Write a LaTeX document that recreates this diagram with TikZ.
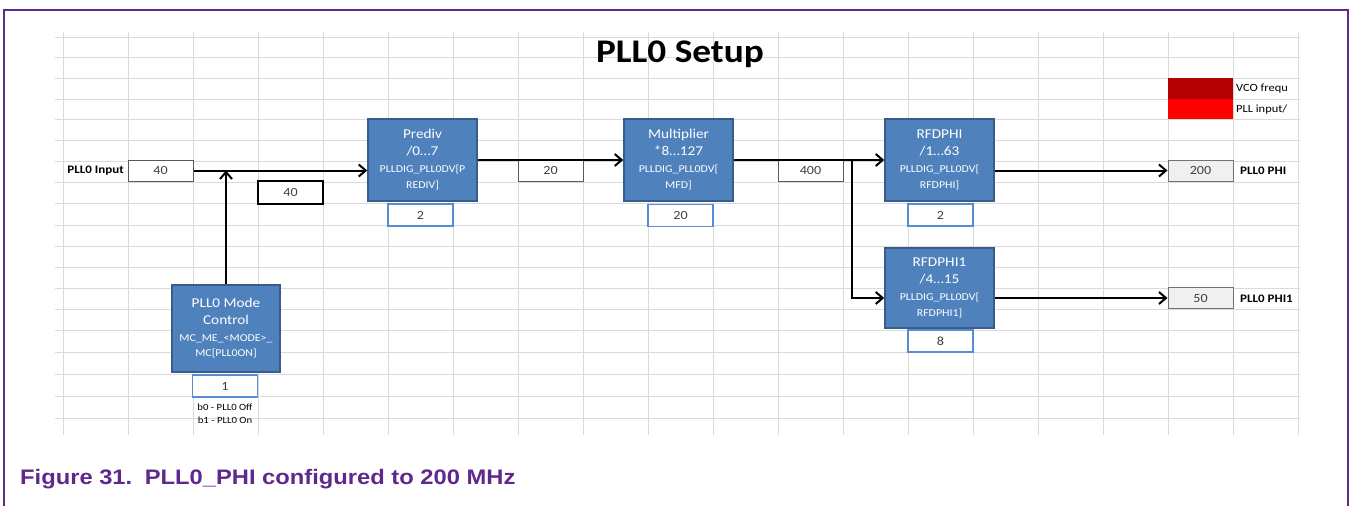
\documentclass[tikz,border=0pt]{standalone}
\usepackage{fontspec}
\setmainfont{Carlito}[FakeStretch=1.13]
\newfontfamily\capf{Liberation Sans}[FakeStretch=1.13]
\usetikzlibrary{arrows.meta}
\definecolor{nxp}{RGB}{94,40,140}
\definecolor{blkfill}{RGB}{79,129,189}
\definecolor{blkdraw}{RGB}{56,93,138}
\definecolor{valdraw}{RGB}{85,142,213}
\definecolor{gridc}{RGB}{218,218,218}
\definecolor{darkred}{RGB}{180,0,0}
\definecolor{numc}{RGB}{64,64,64}
\tikzset{
  gridl/.style={draw=gridc, line width=1pt},
  blk/.style={draw=blkdraw, fill=blkfill, line width=1.5pt, text=white, align=center,
    minimum width=109pt, minimum height=82pt, inner sep=0pt, font=\fontsize{13.5}{17}\selectfont},
  bval/.style={draw=valdraw, fill=white, line width=1.5pt, text=numc,
    minimum width=65pt, minimum height=22pt, inner sep=0pt, font=\fontsize{12.5}{14}\selectfont},
  ival/.style={draw=black!65, fill=white, line width=1pt, text=numc,
    minimum width=65pt, minimum height=21pt, inner sep=0pt, font=\fontsize{12.5}{14}\selectfont},
  oval/.style={draw=black!55, fill=black!6, line width=1pt, text=numc,
    minimum width=65pt, minimum height=21pt, inner sep=0pt, font=\fontsize{12.5}{14}\selectfont},
  lbl/.style={font=\bfseries\fontsize{11.5}{13}\selectfont, inner sep=0pt},
  leg/.style={anchor=west, font=\fontsize{11}{12}\selectfont, inner sep=0pt},
  arr/.style={draw=black, line width=2pt, -{Straight Barb[length=7pt,width=12pt,line width=2pt]}},
}
\newcommand{\smt}{\fontsize{10.5}{17}\selectfont}
\begin{document}
\begin{tikzpicture}[x=1pt,y=-1pt]
\useasboundingbox (0,0) rectangle (1352,506);
% grid
\foreach \yy in {37,57,78,99,119,140,161,182,203,225,246,267,288,309,330,352,374,396,418}
  \draw[gridl] (55,\yy) -- (1300,\yy);
\foreach \k in {0,...,19}
  \draw[gridl] ({63+65*\k},32) -- ({63+65*\k},435);
% frame
\draw[nxp, line width=2.5pt] (4,506) -- (4,10) -- (1348,10) -- (1348,506);
% title
\node[font=\bfseries\fontsize{33}{36}\selectfont, inner sep=0pt] (title) at (680,54) {PLL0 Setup};
% legend
\node[fill=darkred, minimum width=65pt, minimum height=21pt, inner sep=0pt] (leg1) at (1200.5,88.5) {};
\node[fill=red, minimum width=65pt, minimum height=20pt, inner sep=0pt] (leg2) at (1200.5,109) {};
\node[leg] (leg1t) at (1236,89) {VCO frequ};
\node[leg] (leg2t) at (1236,110) {PLL input/};
% input
\node[lbl, anchor=east] (inlbl) at (124,171) {PLL0 Input};
\node[ival] (in40) at (160.5,170.5) {40};
\node[draw=black, line width=2.5pt, fill=white, minimum width=65pt, minimum height=23pt, inner sep=0pt,
  text=numc, font=\fontsize{12.5}{14}\selectfont] (b40) at (290.5,192.5) {40};
% blocks
\node[blk] (prediv) at (422.5,160) {Prediv\\/0…7\\{\smt PLLDIG\_PLL0DV[P}\\[-1pt]{\smt REDIV]}};
\node[bval] (pv) at (420.5,215) {2};
\node[ival] (b20) at (550.5,170.5) {20};
\node[blk] (mult) at (678.5,160) {Multiplier\\*8…127\\{\smt PLLDIG\_PLL0DV[}\\[-1pt]{\smt MFD]}};
\node[bval] (mv) at (680.5,215.5) {20};
\node[ival] (b400) at (810.5,170.5) {400};
\node[blk] (rf) at (939.5,160) {RFDPHI\\/1…63\\{\smt PLLDIG\_PLL0DV[}\\[-1pt]{\smt RFDPHI]}};
\node[bval] (rfv) at (940.5,215) {2};
\node[blk, minimum height=80pt] (rf1) at (939.5,288) {RFDPHI1\\/4…15\\{\smt PLLDIG\_PLL0DV[}\\[-1pt]{\smt RFDPHI1]}};
\node[bval] (rf1v) at (940.5,341) {8};
\node[blk, minimum width=108pt, minimum height=87pt] (mode) at (226,328.5) {PLL0 Mode\\Control\\{\smt MC\_ME\_<MODE>\_}\\[-2pt]{\smt MC[PLL0ON]}};
\node[bval] (modev) at (225,386) {1};
\node[font=\fontsize{9.5}{13}\selectfont, align=center, inner sep=0pt] (modenote) at (225,413.5) {b0 - PLL0 Off\\b1 - PLL0 On};
% outputs
\node[oval] (o200) at (1200.5,170.5) {200};
\node[lbl, anchor=west] (o200l) at (1240,171) {PLL0 PHI};
\node[oval] (o50) at (1200.5,298) {50};
\node[lbl, anchor=west] (o50l) at (1240,299) {PLL0 PHI1};
% connectors
\coordinate (br) at (852,160);
\draw[arr] (in40.east) -- (in40.east -| prediv.west);
\draw[arr] (mode.north) -- (mode.north |- in40.east);
\draw[arr] (prediv.east) -- (mult.west);
\draw[arr] (mult.east) -- (rf.west);
\draw[arr] (br) |- (rf1.west |- o50.west);
\draw[arr] (rf.east |- o200.west) -- (o200.west);
\draw[arr] (rf1.east |- o50.west) -- (o50.west);
% caption
\node[anchor=base west, inner sep=0pt, text=nxp, font=\capf\bfseries\fontsize{21}{24}\selectfont] (cap) at (20,484)
  {Figure 31.\hspace{0.6em}PLL0\_PHI configured to 200 MHz};
\end{tikzpicture}
\end{document}
